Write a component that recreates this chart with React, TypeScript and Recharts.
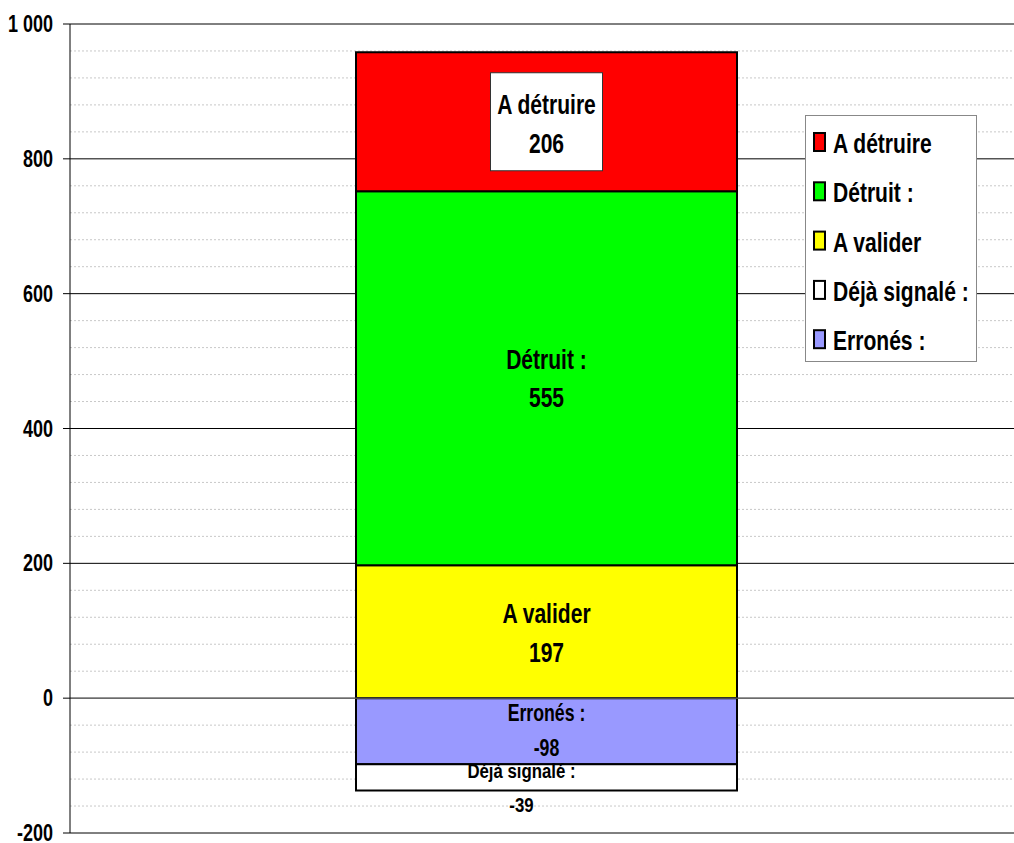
import React from 'react';
import { BarChart, Bar, XAxis, YAxis, CartesianGrid, ReferenceLine, LabelList } from 'recharts';

const categories = ['Bilan'];
const aValider = [197];
const detruit = [555];
const aDetruire = [206];
const errones = [-98];
const dejaSignale = [-39];

const majorTicks = [-200, 0, 200, 400, 600, 800, 1000];
const minorTicks = [-160, -120, -80, -40, 40, 80, 120, 160, 240, 280, 320, 360, 440, 480, 520, 560, 640, 680, 720, 760, 840, 880, 920, 960];

const FONT = "'Liberation Sans', Arial, sans-serif";

const data = categories.map((name, i) => ({
  name,
  aValider: aValider[i],
  detruit: detruit[i],
  aDetruire: aDetruire[i],
  errones: errones[i],
  dejaSignale: dejaSignale[i],
}));

// legend order differs from the stacking order
const legendItems = [
  { label: 'A détruire', color: '#ff0000' },
  { label: 'Détruit :', color: '#00ff00' },
  { label: 'A valider', color: '#ffff00' },
  { label: 'Déjà signalé :', color: '#ffffff' },
  { label: 'Erronés :', color: '#9999ff' },
];

// no narrow font installed: squeeze the glyphs horizontally
const NText = ({ x, y, size, sx = 0.78, anchor = 'middle', children }: any) => (
  <text transform={`translate(${x},${y}) scale(${sx},1)`} textAnchor={anchor} fontFamily={FONT} fontWeight="bold" fontSize={size} fill="#000">
    {children}
  </text>
);

type LabelOpts = { size: number; sx: number; dy1: number; dy2: number; dx?: number; box?: boolean };

const makeLabel = (title: string, o: LabelOpts) => (props: any) => {
  const x = Number(props.x), y = Number(props.y), w = Number(props.width), h = Number(props.height);
  const cx = x + w / 2 + (o.dx || 0);
  const cy = y + h / 2;
  return (
    <g>
      {o.box && <rect x={cx - 56} y={cy - 49} width={112} height={98} fill="#fff" stroke="#333" strokeWidth={1} />}
      <NText x={cx} y={cy + o.dy1} size={o.size} sx={o.sx}>{title}</NText>
      <NText x={cx} y={cy + o.dy2} size={o.size} sx={o.sx}>{props.value}</NText>
    </g>
  );
};

const fmt = (v: number) => String(v).replace(/\B(?=(\d{3})+(?!\d))/g, ' ');

const YTick = (props: any) => (
  <NText x={props.x} y={props.y + 8} size={24} sx={0.75} anchor="end">{fmt(props.payload.value)}</NText>
);

const LegendBox = () => (
  <svg width={172} height={248} style={{ position: 'absolute', left: 805, top: 115 }}>
    <rect x={0.5} y={0.5} width={171} height={246} fill="#fff" stroke="#888" />
    {legendItems.map((it, i) => (
      <g key={it.label}>
        <rect x={9} y={18 + i * 49.3} width={11} height={18} fill={it.color} stroke="#000" strokeWidth={2} />
        <NText x={28} y={38 + i * 49.3} size={27} sx={0.78} anchor="start">{it.label}</NText>
      </g>
    ))}
  </svg>
);

export default function App() {
  return (
    <div style={{ position: 'absolute', left: 0, top: 0, width: 1014, height: 843, overflow: 'hidden', background: '#fff' }}>
      <BarChart width={1023} height={843} data={data} stackOffset="sign" margin={{ top: 24, right: 0, bottom: 10, left: 0 }}>
        <CartesianGrid vertical={false} horizontalValues={minorTicks} stroke="#c8c8c8" strokeDasharray="2 2" />
        <CartesianGrid vertical={false} horizontalValues={majorTicks} stroke="#000" />
        <ReferenceLine y={0} stroke="#777" />
        <XAxis dataKey="name" hide />
        <YAxis
          width={70}
          domain={[-200, 1000]}
          ticks={majorTicks}
          interval={0}
          tickSize={7}
          tickMargin={10}
          axisLine={{ stroke: '#000' }}
          tickLine={{ stroke: '#000' }}
          tick={<YTick />}
        />
        <Bar dataKey="aValider" stackId="a" fill="#ffff00" stroke="#000" strokeWidth={2} barSize={381} isAnimationActive={false}>
          <LabelList dataKey="aValider" content={makeLabel('A valider', { size: 27, sx: 0.78, dy1: -9, dy2: 30 })} />
        </Bar>
        <Bar dataKey="detruit" stackId="a" fill="#00ff00" stroke="#000" strokeWidth={2} barSize={381} isAnimationActive={false}>
          <LabelList dataKey="detruit" content={makeLabel('Détruit :', { size: 27, sx: 0.78, dy1: -9, dy2: 29 })} />
        </Bar>
        <Bar dataKey="aDetruire" stackId="a" fill="#ff0000" stroke="#000" strokeWidth={2} barSize={381} isAnimationActive={false}>
          <LabelList dataKey="aDetruire" content={makeLabel('A détruire', { size: 27, sx: 0.78, dy1: -8, dy2: 31, box: true })} />
        </Bar>
        <Bar dataKey="errones" stackId="a" fill="#9999ff" stroke="#000" strokeWidth={2} barSize={381} isAnimationActive={false}>
          <LabelList dataKey="errones" content={makeLabel('Erronés :', { size: 23, sx: 0.77, dy1: -10, dy2: 25 })} />
        </Bar>
        <Bar dataKey="dejaSignale" stackId="a" fill="#ffffff" stroke="#000" strokeWidth={2} barSize={381} isAnimationActive={false}>
          <LabelList dataKey="dejaSignale" content={makeLabel('Déjà signalé :', { size: 21, sx: 0.8, dy1: 1, dy2: 35, dx: -25 })} />
        </Bar>
      </BarChart>
      <LegendBox />
    </div>
  );
}
